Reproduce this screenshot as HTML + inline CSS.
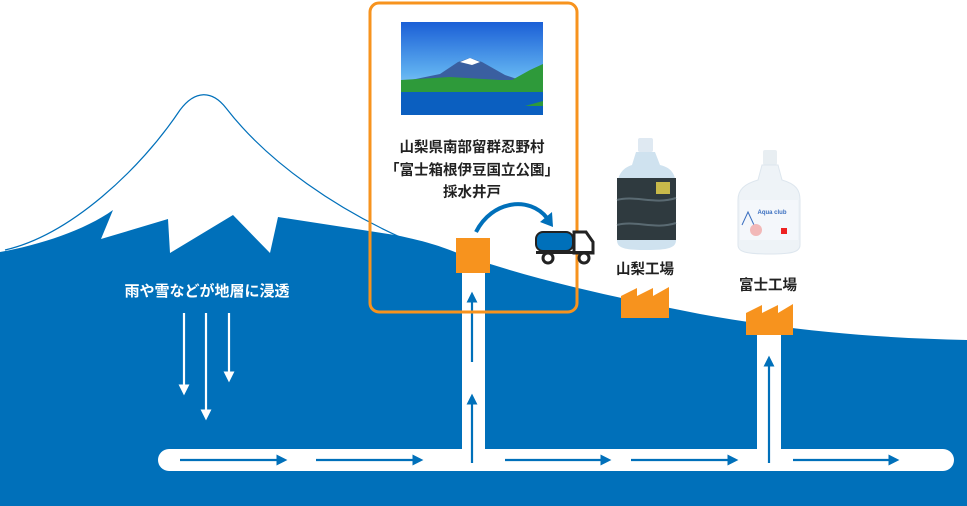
<!DOCTYPE html>
<html><head><meta charset="utf-8"><style>
html,body{margin:0;padding:0;background:#fff;}
svg{display:block}
text{font-family:"Liberation Sans","Noto Sans CJK JP",sans-serif;font-weight:bold}
</style></head><body>
<svg width="967" height="506" viewBox="0 0 967 506" xmlns="http://www.w3.org/2000/svg">
<defs>
<marker id="a" markerWidth="5" markerHeight="5" refX="3" refY="2.5" orient="auto" markerUnits="strokeWidth"><path d="M0,0 L5,2.5 L0,5 z" fill="#0070BA"/></marker>
<marker id="w" markerWidth="5" markerHeight="5" refX="3" refY="2.5" orient="auto" markerUnits="strokeWidth"><path d="M0,0 L5,2.5 L0,5 z" fill="#fff"/></marker>
<linearGradient id="sky" x1="0" y1="0" x2="0" y2="1"><stop offset="0" stop-color="#1b5fd6"/><stop offset="0.55" stop-color="#5fb0f0"/><stop offset="1" stop-color="#cfe8ff"/></linearGradient>
</defs>
<path d="M5,250 C70,235 140,170 180,110 C195,90 212,90 226,108 C270,165 340,210 400,237" fill="none" stroke="#0070BA" stroke-width="1.2"/>
<path d="M0,252 C40,245 85,230 113,210 L101,239 L168,219 L170,253 L233,215 L270,253 L278,217 L395,235 C430,242 445,248 460,254 C540,282 620,298 700,314 C800,332 880,338 967,340 L967,506 L0,506 Z" fill="#0070BA"/>
<rect x="158" y="449" width="796" height="22" rx="11" fill="#fff"/>
<rect x="462" y="268" width="23" height="192" fill="#fff"/>
<rect x="757" y="330" width="24" height="130" fill="#fff"/>
<g stroke="#0070BA" stroke-width="2.2" marker-end="url(#a)">
<line x1="180" y1="460" x2="283" y2="460"/>
<line x1="316" y1="460" x2="419" y2="460"/>
<line x1="505" y1="460" x2="607" y2="460"/>
<line x1="631" y1="460" x2="734" y2="460"/>
<line x1="793" y1="460" x2="895" y2="460"/>
<line x1="472" y1="463" x2="472" y2="398"/>
<line x1="472" y1="362" x2="472" y2="296"/>
<line x1="769" y1="463" x2="769" y2="360"/>
</g>
<g stroke="#fff" stroke-width="2.2" marker-end="url(#w)">
<line x1="184" y1="313" x2="184" y2="391"/>
<line x1="206" y1="313" x2="206" y2="416"/>
<line x1="229" y1="313" x2="229" y2="378"/>
</g>
<text x="207" y="296" font-size="15" fill="#fff" text-anchor="middle">雨や雪などが地層に浸透</text>
<rect x="370" y="3" width="207" height="309" rx="9" fill="none" stroke="#F7931E" stroke-width="3"/>
<rect x="401" y="22" width="142" height="93" fill="url(#sky)"/>
<path d="M401,82 L440,74 L458,62 L470,58 L482,62 L505,75 L520,80 L540,67 L543,66 L543,98 L401,92 Z" fill="#3a5fa0"/>
<path d="M460,62 L470,58 L480,62 L472,65 Z" fill="#fff"/>
<path d="M401,80 L450,77 L500,80 L512,80 L530,70 L543,64 L543,95 L520,92 L401,98 Z" fill="#2e9a3a"/>
<rect x="401" y="92" width="142" height="23" fill="#0b5fc0"/>
<path d="M525,106 L543,101 L543,106 Z" fill="#2e9a3a"/>
<g font-size="14.5" fill="#222" text-anchor="middle">
<text x="472" y="152">山梨県南部留群忍野村</text>
<text x="472" y="175">「富士箱根伊豆国立公園」</text>
<text x="472" y="197">採水井戸</text>
</g>
<rect x="456" y="238" width="34" height="35" fill="#F7931E"/>
<path d="M476,232 C492,200 530,196 547,218" fill="none" stroke="#0070BA" stroke-width="4"/>
<path d="M540,222 L553,227 L552,212 Z" fill="#0070BA"/>
<rect x="536" y="232" width="37" height="19" rx="7" fill="#0070BA" stroke="#222" stroke-width="2"/>
<path d="M574,232 L586,232 L593,242 L593,253 L574,253 Z" fill="#fff" stroke="#222" stroke-width="3"/>
<rect x="536" y="251" width="57" height="3" fill="#222"/>
<circle cx="548" cy="258" r="5" fill="#fff" stroke="#222" stroke-width="3"/>
<circle cx="584" cy="258" r="5" fill="#fff" stroke="#222" stroke-width="3"/>
<rect x="638" y="138" width="15" height="14" rx="2" fill="#dfe9f2"/>
<path d="M636,152 L655,152 L660,165 C673,168 676,176 676,188 L676,240 C676,248 668,250 646,250 C624,250 617,248 617,240 L617,188 C617,176 622,168 632,165 Z" fill="#cfe2ef"/>
<rect x="617" y="178" width="59" height="62" fill="#2f3a3f"/>
<path d="M617,200 C635,195 655,205 676,198 M617,225 C635,220 655,230 676,223" stroke="#5a6a72" stroke-width="2" fill="none"/>
<rect x="656" y="182" width="14" height="12" fill="#c8b94a"/>
<rect x="763" y="150" width="14" height="15" rx="2" fill="#e8eef2"/>
<path d="M762,165 L778,165 L782,180 C796,184 800,190 800,200 L800,245 C800,252 792,254 770,254 C746,254 738,252 738,245 L738,200 C738,190 744,184 758,180 Z" fill="#eef3f7" stroke="#dde6ee"/>
<rect x="740" y="200" width="58" height="40" fill="#f4f7fb"/>
<text x="772" y="214" font-size="6" fill="#3b6fc0" text-anchor="middle" font-weight="normal">Aqua club</text>
<path d="M742,225 L748,212 L754,225" stroke="#3b6fc0" fill="none"/>
<circle cx="756" cy="230" r="6" fill="#f2b8b8"/>
<rect x="781" y="228" width="6" height="6" fill="#e22"/>
<text x="645" y="274" font-size="14.5" fill="#222" text-anchor="middle">山梨工場</text>
<text x="768" y="290" font-size="14.5" fill="#222" text-anchor="middle">富士工場</text>
<path d="M621,318 L621,296 L637,288 L637,296 L653,288 L653,296 L669,287 L669,318 Z" fill="#F7931E"/>
<path d="M746,335 L746,313 L762,305 L762,313 L778,305 L778,313 L793,304 L793,335 Z" fill="#F7931E"/>
</svg>
</body></html>
